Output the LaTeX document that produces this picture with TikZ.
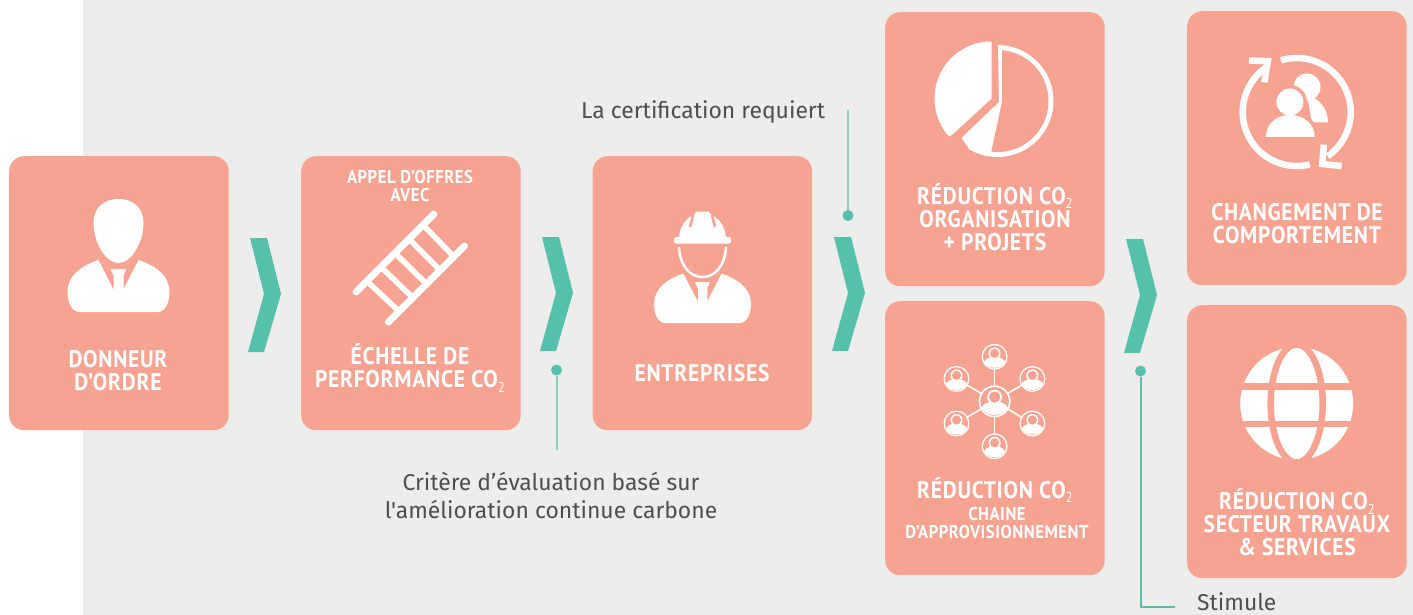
\documentclass[tikz,border=0pt]{standalone}
\usepackage{fontspec}
\newfontfamily\hd[BoldFont={PT Sans Bold},FakeStretch=0.9,LetterSpace=3]{PT Sans}
\newfontfamily\an{Fira Sans}
\definecolor{salmon}{HTML}{F6A391}
\definecolor{teal1}{HTML}{55C1AB}
\definecolor{teal2}{HTML}{8CD0C0}
\definecolor{bggray}{HTML}{EDEDEB}
\definecolor{ink}{HTML}{4D4F53}
\newcommand{\subtwo}{\raisebox{-0.18em}{\scalebox{0.6}{\mdseries 2}}}
\tikzset{
  x=1pt,y=-1pt,
  box/.style={fill=salmon,rounded corners=15pt,minimum width=219.5pt,minimum height=274pt,inner sep=0pt,anchor=north west},
  lab/.style={text=white,align=center,inner sep=0pt,font=\hd\bfseries\fontsize{24}{23}\selectfont},
  labs/.style={text=white,align=center,inner sep=0pt,font=\hd\bfseries\fontsize{18.5}{18}\selectfont},
  note/.style={text=ink,inner sep=0pt,font=\an\fontsize{22.9}{28}\selectfont},
  dot/.style={circle,fill=teal1,minimum size=11pt,inner sep=0pt},
  lead/.style={draw=teal2,line width=2pt},
  chev/.pic={\fill[teal1] (0,0) -- (17,0) -- (31,56) -- (14,114) -- (-2,114) -- (14,56) -- cycle;},
  bust/.pic={
    \fill[white] (-39,0) .. controls (-47,0) and (-51,-10) .. (-51,-20) .. controls (-51,-36) and (-38,-46) .. (-20,-52) -- (20,-52) .. controls (38,-46) and (51,-36) .. (51,-20) .. controls (51,-10) and (47,0) .. (39,0) -- cycle;
    \fill[salmon] (-22,-56) -- (-5,-23) -- (-5,-36) -- (-8,-43) -- (8,-43) -- (5,-36) -- (5,-23) -- (22,-56) -- cycle;
  },
  netp/.pic={
    \fill[white] (0,0) circle (13);
    \fill[salmon] (0,0) circle (11.6);
    \fill[white] (-10.8,5) .. controls (-8,1) and (-4,0) .. (0,0) .. controls (4,0) and (8,1) .. (10.8,5) .. controls (7,13) and (-7,13) .. (-10.8,5) -- cycle;
    \fill[white] (0,-3.5) circle (6);
    \fill[salmon] (0,-3.5) circle (4.6);
  },
}
\begin{document}
\begin{tikzpicture}
\useasboundingbox (0,0) rectangle (1413,615);
\fill[white] (0,0) rectangle (1413,615);
\fill[bggray] (83,0) rectangle (1413,615);

% boxes
\node[box] (b1) at (9,156) {};
\node[box] (b2) at (301,156) {};
\node[box] (b3) at (592.5,156) {};
\node[box] (b4) at (885,12) {};
\node[box] (b5) at (885,301) {};
\node[box] (b6) at (1187,11) {};
\node[box,minimum height=273pt] (b7) at (1187,305) {};

% chevrons
\pic at (250,238) {chev};
\pic at (542,237) {chev};
\pic at (834,237) {chev};
\pic at (1126,239) {chev};

% leaders
\node[dot] (d1) at (556.5,370) {};
\coordinate (e1) at (556.5,450);
\draw[lead] (d1) -- (e1);
\node[dot] (d2) at (848,215.5) {};
\coordinate (e2) at (848,110);
\draw[lead] (d2) -- (e2);
\node[dot] (d3) at (1140.5,371) {};
\coordinate (e3) at (1175,607);
\draw[draw=teal1,line width=2pt] (d3) |- (e3);

% annotation texts
\node[note,anchor=base west] (n1) at (581,119) {La certification requiert};
\node[note,align=center,anchor=center] (n2) at (551,495) {Critère d’évaluation basé sur\\l'amélioration continue carbone};
\node[note,anchor=base west] (n3) at (1197,610) {Stimule};

% labels
\node[lab] (t1) at (118,371) {DONNEUR\\D’ORDRE};
\node[labs] (t2a) at (410,186) {APPEL D’OFFRES\\AVEC};
\node[lab] (t2) at (410,368) {ÉCHELLE DE\\PERFORMANCE CO\subtwo};
\node[lab] (t3) at (702,373) {ENTREPRISES};
\node[lab] (t4) at (995,217) {RÉDUCTION CO\subtwo\\ORGANISATION\\+ PROJETS};
\node[lab] (t5) at (995,490) {RÉDUCTION CO\subtwo};
\node[labs] (t5b) at (997,523) {CHAINE\\D’APPROVISIONNEMENT};
\node[lab] (t6) at (1297,224) {CHANGEMENT DE\\COMPORTEMENT};
\node[lab] (t7) at (1297,522.5) {RÉDUCTION CO\subtwo\\SECTEUR TRAVAUX\\\& SERVICES};

% person icon
\pic at (118.5,312) {bust};
\fill[white] (118.5,199) .. controls (102.5,199) and (93.5,209) .. (93.5,223) .. controls (93.5,242) and (105.5,263) .. (118.5,263) .. controls (131.5,263) and (143.5,242) .. (143.5,223) .. controls (143.5,209) and (134.5,199) .. (118.5,199) -- cycle;

% ladder
\draw[white,line width=7pt,line cap=round] (356,292) -- (434,214);
\draw[white,line width=7pt,line cap=round] (388.5,322) -- (464.5,246);
\foreach \t in {0.14,0.32,0.5,0.68,0.86}
  \draw[white,line width=5.5pt] ({356+78*\t},{292-78*\t}) -- ({388.5+76*\t},{322-76*\t});

% worker icon
\pic[scale=0.95] at (702.5,323) {bust};
\fill[white] (679,238) .. controls (680,226) and (686,218) .. (695,214) -- (696,211.5) -- (709,211.5) -- (710,214) .. controls (719,218) and (725,226) .. (726,238) -- cycle;
\draw[salmon,line width=2.5pt] (693,215) -- (690,227) (712,215) -- (715,227);
\fill[white,rounded corners=1.5pt] (674,237) rectangle (731,243.5);
\draw[white,line width=2.5pt] (679,247) .. controls (680,266) and (690,277) .. (702.5,277) .. controls (715,277) and (725,266) .. (726,247);

% pie icon
\fill[white] (991.5,41.5) -- plot[domain=90:222,samples=40] ({991.5+57*cos(\x)},{98.5-57*sin(\x)}) -- (953,134) -- (991.5,98.6) -- cycle;
\fill[white] (998,45.5) -- plot[domain=90:-120,samples=60] ({997.5+56*cos(\x)},{101-56*sin(\x)}) -- (961.6,137.8) -- (999,102) -- cycle;
\fill[salmon] (1002,50.5) -- plot[domain=85:-97,samples=60] ({997.5+51*cos(\x)},{101-51*sin(\x)}) -- (1002,102) -- cycle;

% change icon
\draw[white,line width=6.5pt] plot[domain=107:-55,samples=50] ({1296.7+54*cos(\x)},{112-54*sin(\x)});
\draw[white,line width=6.5pt] plot[domain=-76:-235,samples=50] ({1296.7+54*cos(\x)},{112-54*sin(\x)});
\draw[white,line width=6.5pt] (1323.9,144.6) -- (1322.2,164) -- (1341.6,166);
\draw[white,line width=6.5pt] (1249,60.5) -- (1267.8,61.2) -- (1264.4,82.3);
\fill[white] (1307,87) circle (13.5);
\fill[white] (1307,95) .. controls (1320,98) and (1328,110) .. (1328,122.5) -- (1312,122.5) -- cycle;
\fill[salmon] (1289.9,102) circle (17);
\fill[salmon] (1262,139) .. controls (1262,120) and (1275,112) .. (1290,112) .. controls (1305,112) and (1319,120) .. (1319,139) -- cycle;
\fill[white] (1289.9,102) circle (13.5);
\fill[white] (1266,137) .. controls (1266,124) and (1276,115) .. (1290,115) .. controls (1304,115) and (1314.7,124) .. (1314.7,137) -- cycle;

% network icon
\draw[white,line width=1.6pt] (994.6,356.8) -- (994.6,446.3);
\draw[white,line width=1.6pt] (956.5,378.9) -- (1032.4,423.5);
\draw[white,line width=1.6pt] (956.5,423.5) -- (1032.4,378.9);
\pic at (994.6,356.8) {netp};
\pic at (1032.4,378.9) {netp};
\pic at (1032.4,423.5) {netp};
\pic at (994.6,446.3) {netp};
\pic at (956.5,423.5) {netp};
\pic at (956.5,378.9) {netp};
\pic[scale=1.23] at (994.6,401.4) {netp};

% globe icon
\fill[white] (1296.7,403.5) circle (56.5);
\fill[salmon] (1235,382.6) rectangle (1358,390);
\fill[salmon] (1235,420.7) rectangle (1358,426.5);
\draw[salmon,line width=6.5pt] (1296.7,403.5) ellipse [x radius=26,y radius=59];
\end{tikzpicture}
\end{document}
